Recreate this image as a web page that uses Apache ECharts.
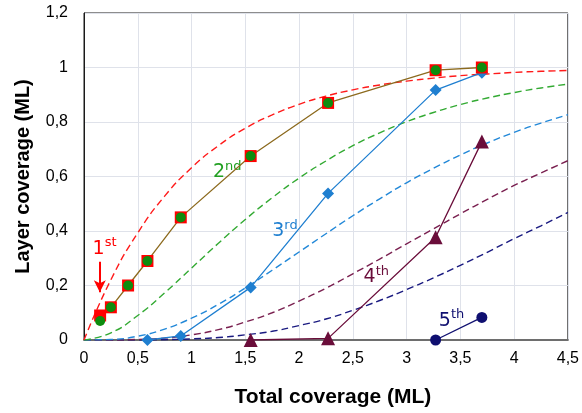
<!DOCTYPE html>
<html>
<head>
<meta charset="utf-8">
<script src="https://cdn.jsdelivr.net/npm/echarts@6/dist/echarts.min.js"></script>
<style>
  html, body { margin: 0; padding: 0; background: #fff; }
  #chart { width: 582px; height: 413px; }
</style>
</head>
<body>
<div id="chart"></div>
<script>
// fitted curves (dashed), read at these x values
const fitX = [0, 0.25, 0.5, 0.75, 1, 1.25, 1.5, 1.75, 2, 2.25, 2.5, 2.75, 3, 3.25, 3.5, 3.75, 4, 4.25, 4.5]
const fit1st = [0, 0.221, 0.393, 0.528, 0.632, 0.713, 0.777, 0.826, 0.865, 0.895, 0.918, 0.936, 0.950, 0.961, 0.970, 0.976, 0.982, 0.986, 0.989]
const fit2nd = [0, 0.026, 0.090, 0.173, 0.264, 0.355, 0.442, 0.522, 0.594, 0.657, 0.713, 0.760, 0.801, 0.835, 0.864, 0.888, 0.908, 0.925, 0.939]
const fit3rd = [0, 0.002, 0.014, 0.040, 0.080, 0.131, 0.191, 0.256, 0.323, 0.390, 0.456, 0.518, 0.577, 0.630, 0.679, 0.723, 0.762, 0.796, 0.827]
const fit4th = [0, 0, 0.002, 0.007, 0.019, 0.038, 0.066, 0.100, 0.143, 0.190, 0.243, 0.297, 0.353, 0.408, 0.463, 0.516, 0.567, 0.613, 0.658]
const fit5th = [0, 0, 0, 0.001, 0.004, 0.009, 0.019, 0.032, 0.053, 0.077, 0.109, 0.145, 0.185, 0.228, 0.274, 0.322, 0.372, 0.419, 0.468]

// measured points
const layer1X = [0.15, 0.25, 0.41, 0.59, 0.9, 1.55, 2.27, 3.27, 3.7]
const layer1Y = [0.09, 0.12, 0.2, 0.29, 0.45, 0.675, 0.87, 0.99, 1.0]
const layer2X = [0.15, 0.25, 0.41, 0.59, 0.9, 1.55, 2.27, 3.27, 3.7]
const layer2Y = [0.07, 0.12, 0.2, 0.29, 0.45, 0.675, 0.87, 0.99, 1.0]
const layer3X = [0.59, 0.9, 1.55, 2.27, 3.27, 3.7]
const layer3Y = [0, 0.015, 0.193, 0.538, 0.917, 0.981]
const layer4X = [1.55, 2.27, 3.27, 3.7]
const layer4Y = [0, 0.006, 0.377, 0.728]
const layer5X = [3.27, 3.7]
const layer5Y = [0, 0.083]

// annotation labels: [x, y, main, sup, colour]
const labels = [
  [0.08, 0.34, '1', 'st', '#ff0000'],
  [1.2, 0.62, '2', 'nd', '#22a022'],
  [1.75, 0.405, '3', 'rd', '#1f7fd0'],
  [2.6, 0.235, '4', 'th', '#6a0d3a'],
  [3.3, 0.075, '5', 'th', '#0f0f70']
]
const arrowFrom = [0.147, 0.287]
const arrowTo = [0.147, 0.175]

const zip = (xs, ys) => xs.map((x, i) => [x, ys[i]])
const comma = v => String(Math.round(v * 10) / 10).replace('.', ',')

const chart = echarts.init(document.getElementById('chart'))

function dashed(data, color) {
  return {
    type: 'line',
    data: zip(fitX, data),
    smooth: true,
    symbol: 'none',
    z: 1,
    lineStyle: { color: color, width: 1.4, type: [7, 4] },
    silent: true
  }
}

function measured(xs, ys, symbol, size, color, lineColor) {
  return {
    type: 'line',
    data: zip(xs, ys),
    symbol: symbol,
    symbolSize: size,
    z: 3,
    itemStyle: { color: color, opacity: 1 },
    lineStyle: { color: lineColor, width: 1.3 }
  }
}

chart.setOption({
  animation: false,
  grid: {
    left: 84, right: 9, top: 13, bottom: 73,
    show: true,
    borderColor: '#1a1a1a',
    borderWidth: 1
  },
  xAxis: {
    type: 'value',
    min: 0, max: 4.5, interval: 0.5,
    name: 'Total coverage (ML)',
    nameLocation: 'middle',
    nameGap: 47,
    nameTextStyle: { fontFamily: 'Liberation Sans', fontWeight: 'bold', fontSize: 21, color: '#000', padding: [0, 0, 0, 14] },
    axisLine: { lineStyle: { color: '#6e6e6e', width: 2 } },
    axisTick: { show: false },
    axisLabel: {
      margin: 11, fontFamily: 'Liberation Sans', fontSize: 16, color: '#000',
      formatter: v => String(v).replace('.', ',')
    },
    splitLine: { lineStyle: { color: '#dfe2ea', width: 1 } }
  },
  yAxis: {
    type: 'value',
    min: 0, max: 1.2, interval: 0.2,
    name: 'Layer coverage (ML)',
    nameLocation: 'middle',
    nameGap: 51,
    nameTextStyle: { fontFamily: 'Liberation Sans', fontWeight: 'bold', fontSize: 20, color: '#000' },
    axisLine: { show: true, lineStyle: { color: '#1a1a1a', width: 1 } },
    axisTick: { show: false },
    axisLabel: {
      margin: 16, fontFamily: 'Liberation Sans', fontSize: 16, color: '#000',
      formatter: comma
    },
    splitLine: { lineStyle: { color: '#dfe2ea', width: 1 } }
  },
  series: [
    dashed(fit5th, '#1a1a80'),
    dashed(fit4th, '#7a2050'),
    dashed(fit3rd, '#2288d8'),
    dashed(fit2nd, '#33aa33'),
    dashed(fit1st, '#ff1a1a'),
    measured(layer5X, layer5Y, 'circle', 11, '#0f0f70', '#0f0f70'),
    measured(layer4X, layer4Y, 'triangle', 14, '#6a0d3a', '#6a0d3a'),
    measured(layer3X, layer3Y, 'diamond', 12, '#1f7fd0', '#1f7fd0'),
    Object.assign(measured(layer1X, layer1Y, 'rect', 12, '#ff0000', '#8c6a1e'), {
      markLine: {
        silent: true,
        symbol: ['none', 'arrow'],
        symbolSize: [9, 12],
        label: { show: false },
        lineStyle: { color: '#ff0000', width: 2, type: 'solid' },
        data: [[{ coord: arrowFrom }, { coord: arrowTo }]]
      }
    }),
    Object.assign(measured(layer2X, layer2Y, 'circle', 10, '#0e8c0e', '#0e8c0e'), {
      lineStyle: { width: 0 }
    })
  ]
})

// place the layer labels at their data coordinates
chart.setOption({
  graphic: labels.map(l => {
    const p = chart.convertToPixel({ gridIndex: 0 }, [l[0], l[1]])
    return {
      type: 'text',
      x: p[0], y: p[1],
      style: {
        text: '{a|' + l[2] + '}{b|' + l[3] + '}',
        verticalAlign: 'middle',
        rich: {
          a: { fontFamily: 'DejaVu Sans', fontSize: 19, fill: l[4], lineHeight: 22, verticalAlign: 'bottom' },
          b: { fontFamily: 'DejaVu Sans', fontSize: 13, fill: l[4], lineHeight: 22, verticalAlign: 'top' }
        }
      }
    }
  })
})
</script>
</body>
</html>
